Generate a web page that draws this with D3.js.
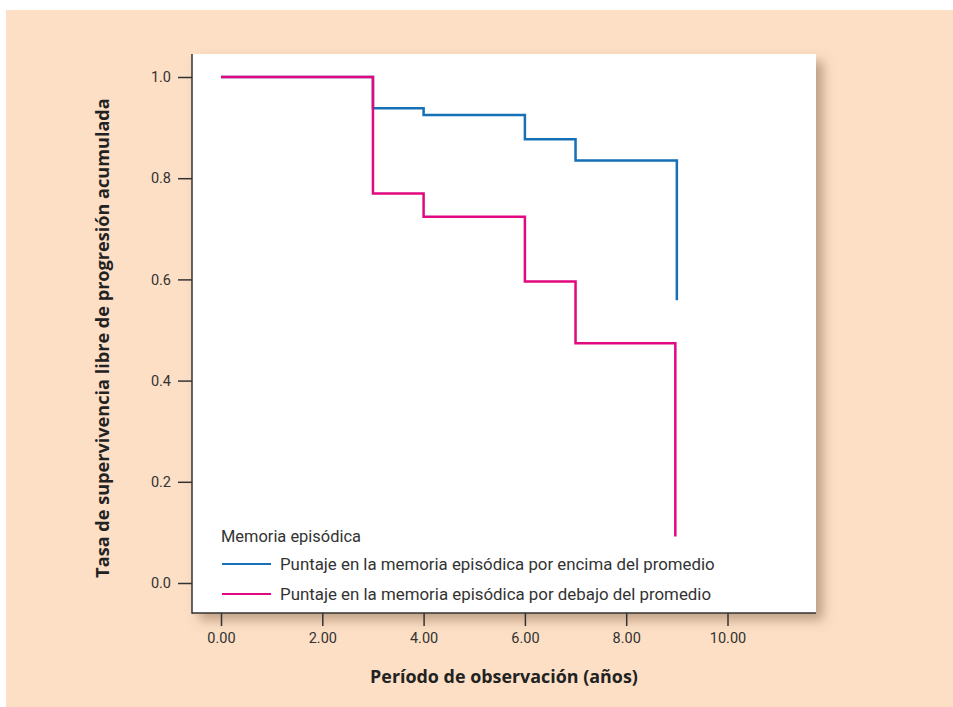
<!DOCTYPE html>
<html><head><meta charset="utf-8">
<script src="https://cdn.jsdelivr.net/npm/d3@7"></script>
<style>body{margin:0;background:#fff}svg{display:block}</style>
</head><body>
<script>
// Data
const seriesNames = ["Puntaje en la memoria episódica por encima del promedio",
                     "Puntaje en la memoria episódica por debajo del promedio"];
const seriesColors = ["#1570b6", "#e2087f"];
// step curves: [time, survival]
const aboveTimes = [0, 3, 4, 6, 7, 9, 9];
const aboveValues = [1.0, 0.938, 0.925, 0.877, 0.835, 0.835, 0.559];
const belowTimes = [0, 3, 4, 6, 7, 8.97, 8.97];
const belowValues = [1.0, 0.770, 0.724, 0.596, 0.474, 0.474, 0.092];
const xTicks = [0, 2, 4, 6, 8, 10];
const yTicks = [0, 0.2, 0.4, 0.6, 0.8, 1.0];
const legendTitle = "Memoria episódica";
const xTitle = "Período de observación (años)";
const yTitle = "Tasa de supervivencia libre de progresión acumulada";

(function(){
const W = 953, H = 707;
const svg = d3.select("body").append("svg").attr("width", W).attr("height", H);
const defs = svg.append("defs");
const f = defs.append("filter").attr("id","sh").attr("x","-10%").attr("y","-10%").attr("width","130%").attr("height","130%");
f.append("feDropShadow").attr("dx",7).attr("dy",7).attr("stdDeviation",6).attr("flood-color","#8a6a50").attr("flood-opacity",0.55);

svg.append("rect").attr("x",6).attr("y",10).attr("width",W-6).attr("height",H-10).attr("fill","#fcdfc5");

const pL = 192, pT = 54, pR = 816, pB = 613;
const x = d3.scaleLinear().domain([0, 10]).range([221, 727.5]);
const y = d3.scaleLinear().domain([0, 1]).range([583, 77]);

svg.append("rect").attr("x",pL).attr("y",pT).attr("width",pR-pL).attr("height",pB-pT)
  .attr("fill","#fff").attr("filter","url(#sh)");

// fit helper: scale font-size so the text spans the wanted width
function fit(sel, base, target){
  sel.style("font-size", base+"px");
  const w = sel.node().getComputedTextLength();
  if (w > 0) sel.style("font-size", (base*target/w).toFixed(2)+"px");
}

// axes
const fontT = "Roboto, 'Open Sans', sans-serif";
const fontB = "'Open Sans', Lato, sans-serif";
const xAxis = svg.append("g").attr("transform",`translate(0,${pB})`)
  .call(d3.axisBottom(x).tickValues(xTicks).tickFormat(d3.format(".2f")).tickSize(13).tickPadding(7).tickSizeOuter(0));
xAxis.select(".domain").remove();
const yAxis = svg.append("g").attr("transform",`translate(${pL},0)`)
  .call(d3.axisLeft(y).tickValues(yTicks).tickFormat(d3.format(".1f")).tickSize(14).tickPadding(7).tickSizeOuter(0));
yAxis.select(".domain").remove();
[xAxis, yAxis].forEach(g => {
  g.selectAll("line").attr("stroke","#333").attr("stroke-width",1.5);
  g.selectAll("text").attr("fill","#333").style("font-family",fontT).style("font-size","14.5px");
});
svg.append("line").attr("x1",pL).attr("x2",pL).attr("y1",pT).attr("y2",pB+0.75).attr("stroke","#333").attr("stroke-width",1.5);
svg.append("line").attr("x1",pL).attr("x2",pR).attr("y1",pB).attr("y2",pB).attr("stroke","#333").attr("stroke-width",1.5);

// curves
const line = d3.line().x(d=>x(d[0])).y(d=>y(d[1])).curve(d3.curveStepAfter);
const series = [
  d3.zip(aboveTimes, aboveValues),
  d3.zip(belowTimes, belowValues)
];
series.forEach((s,i)=>{
  svg.append("path").datum(s).attr("d",line).attr("fill","none")
    .attr("stroke",seriesColors[i]).attr("stroke-width",2.5).attr("stroke-linejoin","miter");
});

// legend
const lt = svg.append("text").attr("x",221).attr("y",542).text(legendTitle)
  .attr("fill","#333").style("font-family",fontT);
fit(lt, 16, 140);
seriesNames.forEach((n,i)=>{
  const ly = 564 + i*30;
  svg.append("line").attr("x1",222).attr("x2",271).attr("y1",ly).attr("y2",ly)
    .attr("stroke",seriesColors[i]).attr("stroke-width",2);
  const t = svg.append("text").attr("x",280).attr("y",ly+6).text(n)
    .attr("fill","#333").style("font-family",fontT);
  fit(t, 16, i===0 ? 435 : 431);
});

// titles
const xt = svg.append("text").attr("x",504).attr("y",683).attr("text-anchor","middle").text(xTitle)
  .attr("fill","#222").style("font-family",fontB).style("font-weight","bold");
fit(xt, 16, 268);
const yt = svg.append("text").attr("transform","translate(109,338) rotate(-90)").attr("text-anchor","middle").text(yTitle)
  .attr("fill","#222").style("font-family",fontB).style("font-weight","bold");
fit(yt, 16, 480);
})();
</script>
</body></html>
